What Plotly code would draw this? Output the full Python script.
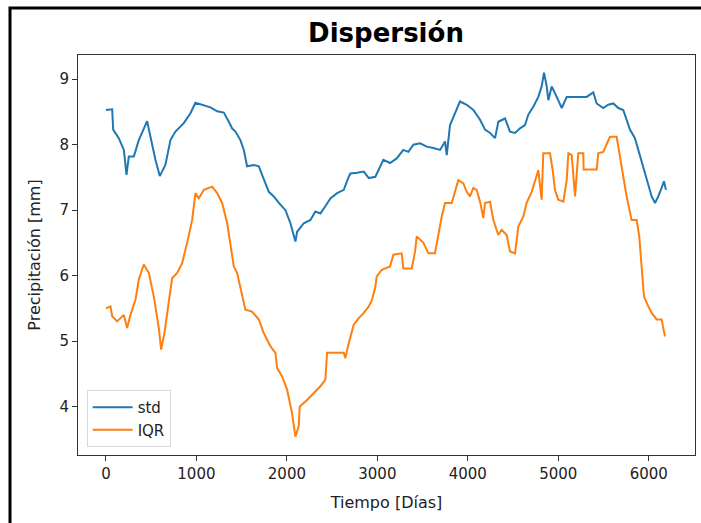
import plotly.graph_objects as go

# std series (day, value)
std_days = [0, 69, 80, 142, 198, 227, 253, 308, 363, 418, 455, 492, 547, 595, 657, 713, 768, 860, 934, 989,
            1063, 1155, 1229, 1303, 1358, 1394, 1431, 1486, 1524, 1560, 1634, 1690, 1726, 1800, 1855, 1911,
            1984, 2039, 2094, 2113, 2187, 2260, 2315, 2370, 2425, 2481, 2555, 2629, 2684, 2702, 2776, 2850,
            2905, 2978, 3066, 3140, 3214, 3287, 3343, 3398, 3472, 3546, 3619, 3693, 3748, 3767, 3803, 3859,
            3914, 3988, 4061, 4135, 4190, 4245, 4301, 4337, 4411, 4466, 4522, 4577, 4632, 4669, 4724, 4779,
            4816, 4842, 4872, 4890, 4927, 4982, 5038, 5093, 5203, 5314, 5387, 5424, 5497, 5552, 5608, 5663,
            5718, 5755, 5792, 5847, 5884, 5922, 5958, 5995, 6032, 6069, 6105, 6142, 6168, 6190]
std_vals = [8.53, 8.54, 8.23, 8.10, 7.92, 7.54, 7.82, 7.82, 8.07, 8.23, 8.36, 8.12, 7.77, 7.52, 7.69, 8.07, 8.20,
            8.33, 8.48, 8.64, 8.61, 8.57, 8.51, 8.49, 8.35, 8.25, 8.20, 8.07, 7.92, 7.67, 7.69, 7.67, 7.54,
            7.28, 7.21, 7.11, 7.00, 6.80, 6.52, 6.67, 6.80, 6.85, 6.98, 6.95, 7.06, 7.18, 7.26, 7.31, 7.51,
            7.56, 7.57, 7.59, 7.49, 7.51, 7.77, 7.72, 7.79, 7.92, 7.89, 8.00, 8.02, 7.97, 7.95, 7.92, 8.05,
            7.84, 8.30, 8.48, 8.66, 8.61, 8.53, 8.38, 8.23, 8.18, 8.10, 8.35, 8.40, 8.20, 8.18, 8.25, 8.30,
            8.46, 8.58, 8.73, 8.89, 9.10, 8.89, 8.68, 8.89, 8.73, 8.56, 8.73, 8.73, 8.73, 8.80, 8.63, 8.56,
            8.61, 8.63, 8.56, 8.53, 8.38, 8.23, 8.10, 7.92, 7.77, 7.56, 7.41, 7.21, 7.11, 7.21, 7.34, 7.44, 7.31]

# IQR series (day, value)
iqr_days = [0, 50, 69, 124, 198, 234, 271, 326, 363, 418, 474, 529, 584, 610, 646, 695, 731, 787, 842, 897,
            953, 989, 1026, 1082, 1174, 1229, 1284, 1340, 1376, 1413, 1450, 1505, 1541, 1615, 1690, 1745,
            1818, 1873, 1892, 1947, 2002, 2057, 2094, 2131, 2142, 2223, 2297, 2370, 2425, 2444, 2555, 2629,
            2646, 2684, 2739, 2794, 2850, 2905, 2941, 2978, 2993, 3049, 3140, 3177, 3269, 3287, 3380, 3417,
            3435, 3509, 3564, 3637, 3711, 3748, 3822, 3859, 3895, 3950, 3988, 4024, 4061, 4098, 4135, 4171,
            4190, 4245, 4282, 4337, 4374, 4429, 4466, 4522, 4558, 4613, 4650, 4706, 4742, 4779, 4816, 4834,
            4908, 4938, 4963, 5000, 5056, 5093, 5111, 5148, 5185, 5203, 5221, 5276, 5280, 5424, 5442, 5497,
            5534, 5571, 5645, 5674, 5718, 5755, 5810, 5866, 5895, 5922, 5947, 5995, 6032, 6087, 6142, 6179]
iqr_vals = [5.50, 5.53, 5.38, 5.30, 5.40, 5.20, 5.40, 5.63, 5.94, 6.17, 6.04, 5.68, 5.20, 4.87, 5.12, 5.58,
            5.96, 6.04, 6.19, 6.50, 6.85, 7.26, 7.18, 7.31, 7.36, 7.26, 7.11, 6.80, 6.50, 6.14, 6.04, 5.68,
            5.48, 5.45, 5.33, 5.12, 4.92, 4.82, 4.59, 4.46, 4.26, 3.90, 3.54, 3.70, 4.00, 4.10, 4.21, 4.31,
            4.41, 4.82, 4.82, 4.82, 4.74, 4.97, 5.25, 5.35, 5.43, 5.53, 5.63, 5.83, 5.99, 6.09, 6.14, 6.32,
            6.34, 6.11, 6.11, 6.37, 6.60, 6.50, 6.34, 6.34, 6.90, 7.11, 7.11, 7.31, 7.46, 7.41, 7.28, 7.21,
            7.34, 7.31, 7.13, 6.88, 7.11, 7.13, 6.85, 6.62, 6.70, 6.62, 6.37, 6.34, 6.75, 6.90, 7.11, 7.28,
            7.46, 7.61, 7.16, 7.87, 7.87, 7.61, 7.31, 7.16, 7.13, 7.46, 7.87, 7.84, 7.21, 7.61, 7.87, 7.87,
            7.62, 7.62, 7.87, 7.89, 8.02, 8.12, 8.12, 7.87, 7.56, 7.21, 6.85, 6.85, 6.60, 6.04, 5.68, 5.53,
            5.43, 5.33, 5.33, 5.07]

x_ticks = [0, 1000, 2000, 3000, 4000, 5000, 6000]
y_ticks = [4, 5, 6, 7, 8, 9]

FONT = "DejaVu Sans"
W, H = 701, 523
L, R, T, B = 78, 6, 55, 68
pw, ph = W - L - R, H - T - B

def px_to_paper_x(px):
    return (px - L) / pw

def py_to_paper_y(py):
    return (H - B - py) / ph

fig = go.Figure()
fig.add_trace(go.Scatter(x=std_days, y=std_vals, mode="lines", name="std",
                         line=dict(color="#1f77b4", width=2)))
fig.add_trace(go.Scatter(x=iqr_days, y=iqr_vals, mode="lines", name="IQR",
                         line=dict(color="#ff7f0e", width=2)))

fig.update_layout(
    width=W, height=H,
    margin=dict(l=L, r=R, t=T, b=B),
    paper_bgcolor="white", plot_bgcolor="white",
    font=dict(family=FONT, color="#222222", size=15),
    title=dict(text="<b>Dispersión</b>", x=px_to_paper_x(386), xref="paper", xanchor="center",
               y=1 - 33 / H, yanchor="middle", font=dict(family=FONT, size=26, color="black")),
    showlegend=True,
    legend=dict(x=0.014, y=0.02, xanchor="left", yanchor="bottom",
                bgcolor="white", bordercolor="#d9d9d9", borderwidth=1,
                font=dict(family=FONT, size=15, color="#222222"), itemwidth=40),
)
fig.update_xaxes(range=[-309, 6511], tickvals=x_ticks, ticktext=[str(v) for v in x_ticks],
                 showgrid=False, zeroline=False, showline=True, mirror=True,
                 linecolor="#333333", linewidth=1, ticks="outside", ticklen=5, tickcolor="#333333",
                 title=dict(text="Tiempo [Días]", font=dict(family=FONT, size=16), standoff=14),
                 tickfont=dict(family=FONT, size=15))
fig.update_yaxes(range=[3.26, 9.37], tickvals=y_ticks, ticktext=[str(v) for v in y_ticks],
                 showgrid=False, zeroline=False, showline=True, mirror=True,
                 linecolor="#333333", linewidth=1, ticks="outside", ticklen=5, tickcolor="#333333",
                 title=dict(text="Precipitación [mm]", font=dict(family=FONT, size=16), standoff=14),
                 tickfont=dict(family=FONT, size=15))

# outer black frame (top and left visible)
fig.add_shape(type="rect", xref="paper", yref="paper",
              x0=px_to_paper_x(10), x1=px_to_paper_x(720),
              y0=py_to_paper_y(540), y1=py_to_paper_y(8),
              line=dict(color="black", width=3), fillcolor="rgba(0,0,0,0)", layer="above")

fig.write_html("out.html")
